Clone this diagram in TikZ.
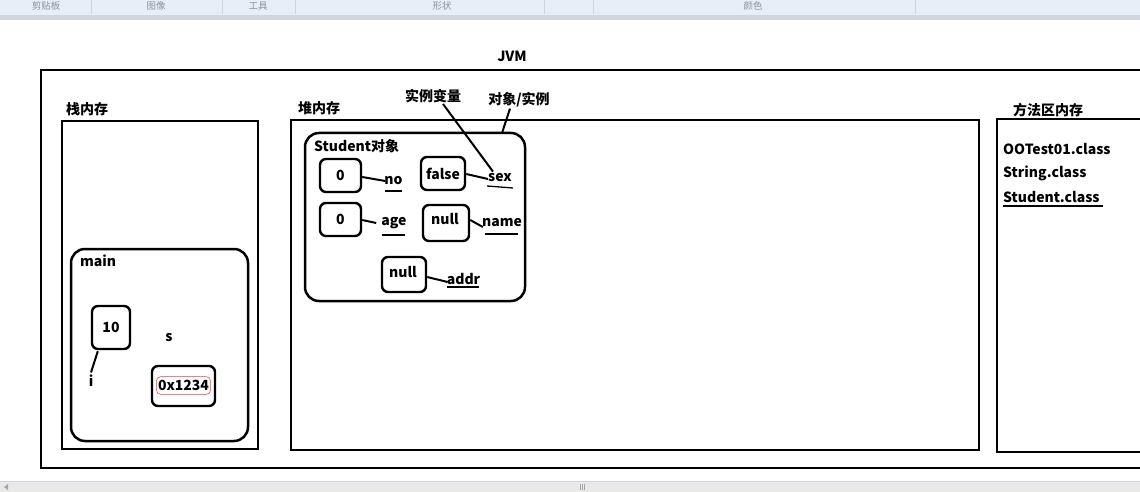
\documentclass[tikz,border=0pt]{standalone}
\usepackage{fontspec}
\setmainfont{Noto Sans CJK SC}
\usetikzlibrary{calc}
\definecolor{tbbg}{HTML}{E6EEF8}
\definecolor{tbline}{HTML}{CDD5E0}
\definecolor{tbtext}{HTML}{8A929E}
\definecolor{sbbg}{HTML}{E9E9E9}
\begin{document}
\begin{tikzpicture}[x=1pt,y=-1pt,
  lbl/.style={font=\fontsize{14}{16}\selectfont\bfseries, inner sep=0pt},
  tbl/.style={font=\fontsize{9.5}{10}\selectfont, text=tbtext, inner sep=0pt},
  cell/.style={draw, line width=2.4pt, rounded corners=6pt, inner sep=0pt,
    font=\fontsize{14}{16}\selectfont\bfseries},
  frame/.style={draw, line width=2.5pt},
  wire/.style={line width=2pt},
  uline/.style={line width=1.3pt}]
\useasboundingbox (0,0) rectangle (1140,492);
\clip (0,0) rectangle (1140,492);
\fill[white] (0,0) rectangle (1140,492);
% toolbar
\fill[tbbg] (0,0) rectangle (1140,15);
\fill[tbline] (0,15) rectangle (1140,20);
\foreach \x in {91,222,295,544,593,915} \draw[tbline, line width=0.8pt] (\x,0) -- (\x,14);
\node[tbl] (t1) at (46,6) {剪贴板};
\node[tbl] (t2) at (156,6) {图像};
\node[tbl] (t3) at (258,6) {工具};
\node[tbl] (t4) at (442,6) {形状};
\node[tbl] (t5) at (753,6) {颜色};
% scrollbar
\fill[sbbg] (0,481) rectangle (1140,492);
\draw[tbline, line width=0.8pt] (0,481) -- (1140,481);
\fill[gray!70] (4,487) -- (8,484) -- (8,490) -- cycle;
\foreach \x in {580,582,584} \draw[gray!70, line width=0.6pt] (\x,484) -- (\x,490);
% JVM
\node[lbl] (jvm) at (512,56) {JVM};
\draw[frame] (41,70) rectangle (1160,468);
% stack
\node[lbl, anchor=west] (stacklbl) at (66,109) {栈内存};
\draw[frame] (62,121) rectangle (258,449);
\draw[frame, rounded corners=14pt] (71,249) rectangle (248,441);
\node[lbl, anchor=west] (mainlbl) at (80,261) {main};
\node[cell, minimum width=38pt, minimum height=43pt] (ten) at (111,327.5) {10};
\node[lbl] (ivar) at (91,381) {i};
\draw[wire] ($(ten.south west)+(7,1)$) -- ($(ivar.north)+(0,-2.5)$);
\node[lbl] (svar) at (169,338) {s};
\node[cell, minimum width=63pt, minimum height=40pt] (sbox) at (183.5,386) {};
\node[lbl, draw=red!80, line width=0.5pt, rounded corners=4pt, inner xsep=1.5pt, inner ysep=3.5pt] (saddr) at (183.5,385.5) {0x1234};
% heap
\node[lbl, anchor=west] (heaplbl) at (298,108) {堆内存};
\draw[frame] (291,120) rectangle (979,450);
\draw[frame, rounded corners=14pt] (305,133) rectangle (525,301);
\coordinate (stutop) at (502,133);
\node[lbl, anchor=west] (stulbl) at (314,146) {Student对象};
\node[cell, minimum width=41pt, minimum height=33pt] (cno) at (340.5,175.5) {0};
\node[cell, minimum width=44pt, minimum height=33pt] (csex) at (443,173.5) {false};
\node[cell, minimum width=41pt, minimum height=33pt] (cage) at (340.5,219.5) {0};
\node[cell, minimum width=46pt, minimum height=36pt] (cname) at (446,223) {};
\node[lbl] (tname) at (445,219) {null};
\node[cell, minimum width=44pt, minimum height=35pt] (caddr) at (404,274.5) {};
\node[lbl] (taddr) at (403,272) {null};
\node[lbl] (lno) at (393.5,181) {no};
\node[lbl] (lsex) at (500,178) {sex};
\node[lbl] (lage) at (394,223) {age};
\node[lbl] (lname) at (502,223) {name};
\node[lbl] (laddr) at (463.5,279) {addr};
\draw[wire] ($(cno.east)+(0,1.5)$) -- ($(lno.west)+(1,0)$);
\draw[wire] ($(csex.east)+(0,0.5)$) -- ($(lsex.west)+(0,1)$);
\draw[wire] ($(cage.east)+(0,0.5)$) -- ($(lage.west)+(-5,0)$);
\draw[wire] ($(cname.east)+(0,-3)$) -- ($(lname.west)+(1,4)$);
\draw[wire] ($(caddr.east)+(0,2.5)$) -- ($(laddr.west)+(1,3)$);
\draw[uline] (385,191) -- (402,191);
\draw[uline] (487,186) -- (513,188);
\draw[uline] (382,235) -- (405,235);
\draw[uline] (485,234) -- (518,234);
\draw[uline] (447,287) -- (479,287);
\node[lbl] (shili) at (433,96) {实例变量};
\node[lbl] (duixiang) at (519,100) {对象/实例};
\draw[wire] ($(shili.south)+(10,1)$) -- ($(lsex.north)+(-7,-2)$);
\draw[wire] ($(duixiang.south)+(-9,1)$) -- (stutop);
% method area
\node[lbl] (methlbl) at (1048,110) {方法区内存};
\draw[frame] (997,119) rectangle (1160,452);
\node[lbl, anchor=west] (c1) at (1003,149) {OOTest01.class};
\node[lbl, anchor=west] (c2) at (1003,173) {String.class};
\node[lbl, anchor=west] (c3) at (1003,197) {Student.class};
\draw[wire] (1003,206) -- (1103,206);
\end{tikzpicture}
\end{document}
